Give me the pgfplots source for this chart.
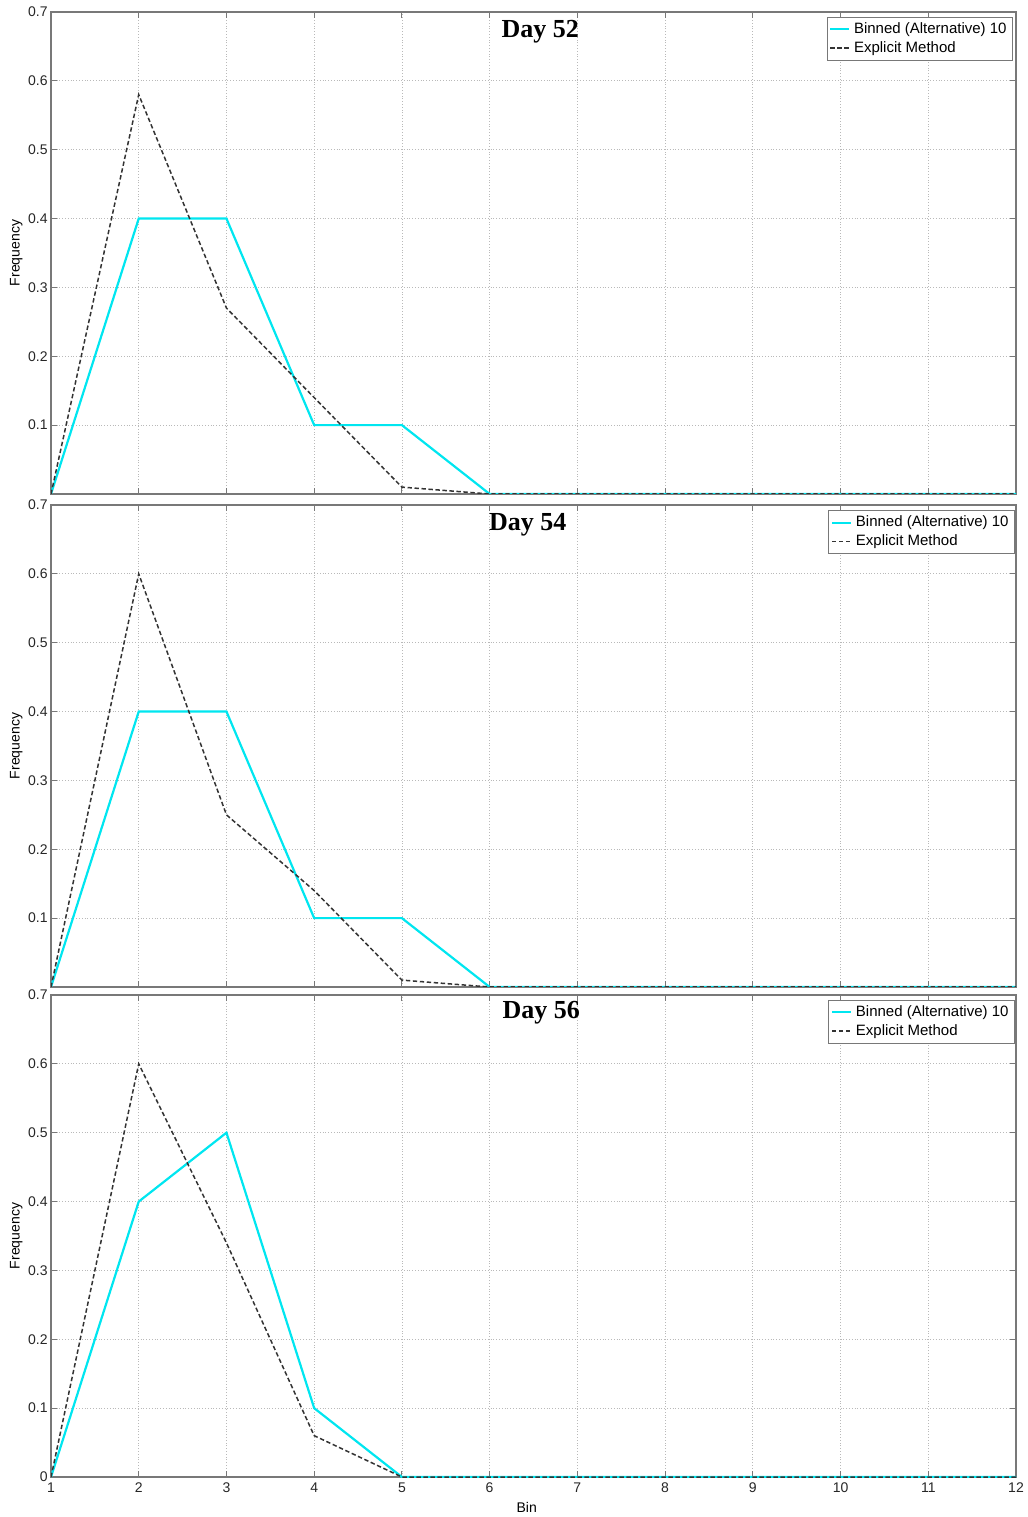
\documentclass[border=0pt]{standalone}
\usepackage{pgfplots}
\pgfplotsset{compat=1.18}
\usepackage{fontspec}
\setmainfont{Liberation Sans}
\newfontfamily\titlefont{Liberation Serif}
\definecolor{cyanline}{RGB}{0,230,240}
\definecolor{axgray}{RGB}{120,120,120}
\pgfplotsset{
  panel/.style={
    scale only axis, width=482.5pt, height=241pt,
    xmin=1, xmax=12, ymin=0, ymax=0.7,
    xtick={1,2,3,4,5,6,7,8,9,10,11,12},
    grid=major,
    major grid style={densely dotted, gray!55, line width=0.4pt},
    axis line style={axgray, line width=0.6pt},
    tick style={axgray, line width=0.5pt},
    tick align=inside, major tick length=3pt,
    tick label style={font=\fontsize{7}{8}\selectfont, text=black!85},
    /pgf/number format/assume math mode=true,
    /pgf/number format/fixed,
    yticklabel style={inner sep=1.5pt},
    ylabel={Frequency},
    ylabel style={font=\fontsize{7}{8}\selectfont, at={(axis description cs:-0.036,0.5)}, anchor=center},
    legend cell align=left,
    legend style={font=\fontsize{7.5}{9}\selectfont, draw=axgray, line width=0.5pt, inner xsep=1pt, inner ysep=0.5pt, row sep=-1.5pt},
    legend image code/.code={\draw[#1] (0cm,0cm) -- (0.33cm,0cm);},
  },
  binned/.style={cyanline, line width=1.1pt},
  explicit/.style={black!80, line width=0.75pt, dash pattern=on 2.2pt off 1.3pt},
}
\begin{document}
\begin{tikzpicture}
\path[use as bounding box] (-25.5pt,-20pt) rectangle (488.5pt,738.5pt);
% Panel 1: Day 52
\begin{axis}[panel, at={(0pt,491.5pt)}, anchor=south west,
  ytick={0.1,0.2,0.3,0.4,0.5,0.6,0.7}, xticklabels={},
  legend style={at={(0.997,0.99)}, anchor=north east}]
\addplot[binned] coordinates {(1,0)(2,0.4)(3,0.4)(4,0.1)(5,0.1)(6,0)(7,0)(8,0)(9,0)(10,0)(11,0)(12,0)};
\addlegendentry{Binned (Alternative) 10}
\addplot[explicit] coordinates {(1,0)(2,0.58)(3,0.27)(4,0.14)(5,0.01)(6,0)(7,0)(8,0)(9,0)(10,0)(11,0)(12,0)};
\addlegendentry{Explicit Method}
\node[font=\titlefont\bfseries\fontsize{13}{14}\selectfont] at (rel axis cs:0.507,0.96) {Day 52};
\end{axis}
% Panel 2: Day 54
\begin{axis}[panel, at={(0pt,245pt)}, anchor=south west,
  ytick={0.1,0.2,0.3,0.4,0.5,0.6,0.7}, xticklabels={},
  legend style={at={(0.999,0.989)}, anchor=north east}]
\addplot[binned] coordinates {(1,0)(2,0.4)(3,0.4)(4,0.1)(5,0.1)(6,0)(7,0)(8,0)(9,0)(10,0)(11,0)(12,0)};
\addlegendentry{Binned (Alternative) 10}
\addplot[explicit] coordinates {(1,0)(2,0.6)(3,0.25)(4,0.14)(5,0.01)(6,0)(7,0)(8,0)(9,0)(10,0)(11,0)(12,0)};
\addlegendentry{Explicit Method}
\node[font=\titlefont\bfseries\fontsize{13}{14}\selectfont] at (rel axis cs:0.494,0.96) {Day 54};
\end{axis}
% Panel 3: Day 56
\begin{axis}[panel, at={(0pt,0pt)}, anchor=south west,
  ytick={0,0.1,0.2,0.3,0.4,0.5,0.6,0.7},
  xlabel={Bin},
  xlabel style={font=\fontsize{7}{8}\selectfont, at={(axis description cs:0.493,-0.064)}, anchor=center},
  xticklabel style={inner sep=2.5pt},
  legend style={at={(0.999,0.99)}, anchor=north east}]
\addplot[binned] coordinates {(1,0)(2,0.4)(3,0.5)(4,0.1)(5,0)(6,0)(7,0)(8,0)(9,0)(10,0)(11,0)(12,0)};
\addlegendentry{Binned (Alternative) 10}
\addplot[explicit] coordinates {(1,0)(2,0.6)(3,0.34)(4,0.06)(5,0)(6,0)(7,0)(8,0)(9,0)(10,0)(11,0)(12,0)};
\addlegendentry{Explicit Method}
\node[font=\titlefont\bfseries\fontsize{13}{14}\selectfont] at (rel axis cs:0.508,0.963) {Day 56};
\end{axis}
\end{tikzpicture}
\end{document}
